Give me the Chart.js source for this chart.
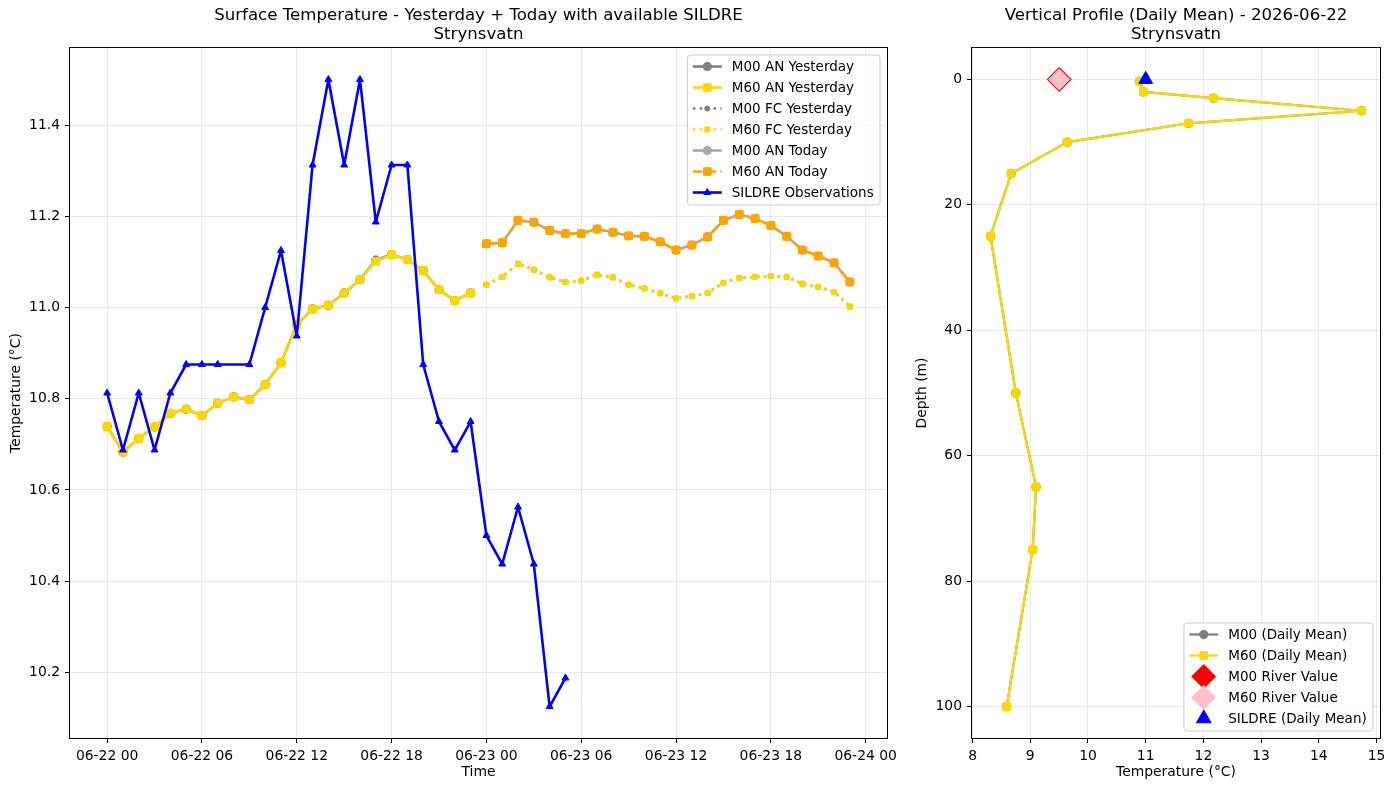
<!DOCTYPE html>
<html lang="en">
<head>
<meta charset="UTF-8" />
<title>Strynsvatn - surface temperature and vertical profile</title>
<style>
  html, body { margin: 0; padding: 0; background: #fff; }
  #wrap { position: relative; width: 1394px; height: 790px; }
  #surface { position: absolute; left: 0; top: 0; }
  #profile { position: absolute; left: 905px; top: 0; }
</style>
<script src="https://cdn.jsdelivr.net/npm/chart.js"></script>
</head>
<body>
<div id="wrap">
  <canvas id="surface" width="905" height="790"></canvas>
  <canvas id="profile" width="489" height="790"></canvas>
</div>

<script>
// ---- surface temperature (x = hours since 2026-06-22 00:00) ----
const yesterdayHours = [0, 1, 2, 3, 4, 5, 6, 7, 8, 9, 10, 11, 12, 13, 14, 15, 16, 17, 18, 19, 20, 21, 22, 23];
const todayHours = [24, 25, 26, 27, 28, 29, 30, 31, 32, 33, 34, 35, 36, 37, 38, 39, 40, 41, 42, 43, 44, 45, 46, 47];

const m00AnYesterday = [10.739, 10.683, 10.713, 10.738, 10.768, 10.777, 10.763, 10.790, 10.804, 10.798, 10.831, 10.879,
                        10.963, 10.997, 11.005, 11.032, 11.061, 11.104, 11.116, 11.105, 11.081, 11.039, 11.015, 11.032];
const m60AnYesterday = [10.739, 10.683, 10.713, 10.738, 10.768, 10.777, 10.763, 10.790, 10.804, 10.798, 10.831, 10.879,
                        10.963, 10.997, 11.005, 11.032, 11.061, 11.101, 11.116, 11.105, 11.081, 11.039, 11.015, 11.032];
const m00FcYesterday = [11.050, 11.067, 11.096, 11.083, 11.066, 11.056, 11.059, 11.072, 11.066, 11.050, 11.042, 11.031,
                        11.020, 11.025, 11.032, 11.054, 11.065, 11.067, 11.069, 11.067, 11.052, 11.045, 11.034, 11.002];
const m60FcYesterday = [11.050, 11.067, 11.096, 11.083, 11.066, 11.056, 11.059, 11.072, 11.066, 11.050, 11.042, 11.031,
                        11.020, 11.025, 11.032, 11.054, 11.065, 11.067, 11.069, 11.067, 11.052, 11.045, 11.034, 11.002];
const m00AnToday = [11.140, 11.142, 11.191, 11.187, 11.169, 11.162, 11.162, 11.172, 11.165, 11.157, 11.156, 11.144,
                    11.126, 11.137, 11.155, 11.191, 11.204, 11.195, 11.180, 11.156, 11.126, 11.113, 11.098, 11.056];
const m60AnToday = [11.140, 11.142, 11.191, 11.187, 11.169, 11.162, 11.162, 11.172, 11.165, 11.157, 11.156, 11.144,
                    11.126, 11.137, 11.155, 11.191, 11.204, 11.195, 11.180, 11.156, 11.126, 11.113, 11.098, 11.056];

const sildreHours = [0, 1, 2, 3, 4, 5, 6, 7, 9, 10, 11, 12, 13, 14, 15, 16, 17, 18, 19, 20, 21, 22, 23, 24, 25, 26, 27, 28, 29];
const sildreTemp = [10.8125, 10.6875, 10.8125, 10.6875, 10.8125, 10.875, 10.875, 10.875, 10.875, 11.0, 11.125, 10.9375,
                    11.3125, 11.5, 11.3125, 11.5, 11.1875, 11.3125, 11.3125, 10.875, 10.75, 10.6875, 10.75,
                    10.5, 10.4375, 10.5625, 10.4375, 10.125, 10.1875];

const timeTickHours = [0, 6, 12, 18, 24, 30, 36, 42, 48];
const timeTickLabels = ['06-22 00', '06-22 06', '06-22 12', '06-22 18', '06-23 00', '06-23 06', '06-23 12', '06-23 18', '06-24 00'];
const tempTicks = [10.2, 10.4, 10.6, 10.8, 11.0, 11.2, 11.4];

// ---- vertical profile, daily mean 2026-06-22 ----
const profileDepth = [0.3, 2, 3, 5, 7, 10, 15, 25, 50, 65, 75, 100];
const m00ProfileTemp = [10.89, 10.96, 12.17, 14.74, 11.74, 9.64, 8.67, 8.31, 8.75, 9.10, 9.04, 8.59];
const m60ProfileTemp = [10.89, 10.96, 12.17, 14.74, 11.74, 9.64, 8.67, 8.31, 8.75, 9.10, 9.04, 8.59];
const m00RiverTemp = 9.5;
const m60RiverTemp = 9.5;
const sildreDailyMean = 11.0;
const depthTicks = [0, 20, 40, 60, 80, 100];
const profileTempTicks = [8, 9, 10, 11, 12, 13, 14, 15];

Chart.defaults.font.family = '"DejaVu Sans", sans-serif';
Chart.defaults.font.size = 13.9;
Chart.defaults.color = '#000';

const GRID = 'rgba(176,176,176,0.35)';

function line(label, xs, ys, color, dash, pointStyle, radius, order, width) {
  return {
    label: label,
    data: xs.map((x, i) => ({ x: x, y: ys[i] })),
    borderColor: color,
    backgroundColor: color,
    pointBackgroundColor: color,
    pointBorderColor: color,
    borderWidth: width || 2.6,
    borderDash: dash,
    borderJoinStyle: 'round',
    pointStyle: pointStyle,
    pointRadius: radius,
    pointBorderWidth: 1,
    showLine: true,
    tension: 0,
    order: order
  };
}

function marker(label, x, y, color, pointStyle, radius, legendRadius, order) {
  return {
    label: label,
    data: [{ x: x, y: y }],
    borderColor: color,
    backgroundColor: color,
    pointBackgroundColor: color,
    pointBorderColor: color,
    pointStyle: pointStyle,
    pointRadius: radius,
    legendRadius: legendRadius,
    pointBorderWidth: 1,
    showLine: false,
    order: order
  };
}

function axis(min, max, ticks, fmt, title, titlePad, fitSize, horizontal, reverse) {
  return {
    type: 'linear',
    min: min,
    max: max,
    reverse: !!reverse,
    afterBuildTicks: s => { s.ticks = ticks.map(v => ({ value: v })); },
    afterFit: s => { if (horizontal) s.height = fitSize; else s.width = fitSize; },
    ticks: { callback: fmt, padding: 5, maxRotation: 0, autoSkip: false, color: '#000' },
    grid: { color: GRID, lineWidth: 0.8, tickLength: 5, tickColor: '#000', tickWidth: 1 },
    border: { display: false },
    title: { display: true, text: title, padding: titlePad, color: '#000' }
  };
}

// black box round the plot area, like matplotlib spines
const frame = {
  id: 'frame',
  afterDatasetsDraw(chart) {
    const { ctx, chartArea: a } = chart;
    ctx.save();
    ctx.strokeStyle = '#000';
    ctx.lineWidth = 1;
    ctx.strokeRect(Math.round(a.left) - 0.5, Math.round(a.top) - 0.5,
                   Math.round(a.right - a.left) + 1, Math.round(a.bottom - a.top) + 1);
    ctx.restore();
  }
};

// legend box inside the plot area
const boxLegend = {
  id: 'boxLegend',
  afterDraw(chart, args, opts) {
    if (!opts.corner) return;
    const ctx = chart.ctx, a = chart.chartArea, sets = chart.data.datasets;
    const rowH = 21, pad = 5.3, handle = 29, gap = 10, inset = 7;
    ctx.save();
    ctx.font = '13.5px "DejaVu Sans"';
    const textW = Math.max(...sets.map(d => ctx.measureText(d.label).width));
    const w = pad + handle + gap + textW + pad + 1;
    const h = sets.length * rowH + 3;
    const x0 = a.right - inset - w;
    const y0 = opts.corner === 'top' ? a.top + inset : a.bottom - inset - h;

    ctx.beginPath();
    if (ctx.roundRect) ctx.roundRect(x0, y0, w, h, 3); else ctx.rect(x0, y0, w, h);
    ctx.fillStyle = 'rgba(255,255,255,0.8)';
    ctx.fill();
    ctx.strokeStyle = '#cccccc';
    ctx.lineWidth = 1;
    ctx.stroke();

    sets.forEach((d, i) => {
      const cy = y0 + 11.5 + i * rowH;
      const hx = x0 + pad;
      if (d.showLine) {
        ctx.beginPath();
        ctx.setLineDash(d.borderDash || []);
        ctx.strokeStyle = d.borderColor;
        ctx.lineWidth = d.borderWidth;
        ctx.moveTo(hx, cy);
        ctx.lineTo(hx + handle, cy);
        ctx.stroke();
      }
      ctx.setLineDash([]);
      ctx.fillStyle = d.pointBackgroundColor;
      ctx.strokeStyle = d.pointBorderColor;
      ctx.lineWidth = 1;
      Chart.helpers.drawPoint(ctx, {
        pointStyle: d.pointStyle, rotation: 0,
        radius: d.legendRadius || d.pointRadius, borderWidth: 1
      }, hx + handle / 2, cy);
      ctx.fillStyle = '#000';
      ctx.textBaseline = 'middle';
      ctx.textAlign = 'left';
      ctx.fillText(d.label, hx + handle + gap, cy + 0.5);
    });
    ctx.restore();
  }
};

const titleFont = { size: 16.6, weight: 'normal', lineHeight: 1.16 };

new Chart(document.getElementById('surface'), {
  type: 'line',
  data: {
    datasets: [
      line('M00 AN Yesterday', yesterdayHours, m00AnYesterday, '#808080', [], 'circle', 4.2, 7),
      line('M60 AN Yesterday', yesterdayHours, m60AnYesterday, '#FFD700', [], 'rect', 5.4, 6),
      line('M00 FC Yesterday', todayHours, m00FcYesterday, '#808080', [2.6, 4.3], 'circle', 2.6, 5),
      line('M60 FC Yesterday', todayHours, m60FcYesterday, '#FFD700', [2.6, 4.3], 'rect', 3.6, 4),
      line('M00 AN Today', todayHours, m00AnToday, '#A9A9A9', [], 'circle', 4.2, 3),
      line('M60 AN Today', todayHours, m60AnToday, '#FFA500', [9.6, 4.2], 'rect', 5.4, 2),
      line('SILDRE Observations', sildreHours, sildreTemp, '#0000FF', [], 'triangle', 4, 1)
    ]
  },
  options: {
    responsive: false,
    animation: false,
    events: [],
    layout: { padding: { left: 0, right: 18, top: 0, bottom: 0 } },
    scales: {
      x: axis(-2.35, 49.35, timeTickHours, v => timeTickLabels[timeTickHours.indexOf(v)],
              'Time', { top: 0, bottom: 9 }, 52, true),
      y: axis(10.056, 11.569, tempTicks, v => v.toFixed(1),
              'Temperature (°C)', { top: 8, bottom: 0 }, 70, false)
    },
    plugins: {
      legend: { display: false },
      tooltip: { enabled: false },
      title: {
        display: true,
        fullSize: false,
        text: ['Surface Temperature - Yesterday + Today with available SILDRE', 'Strynsvatn'],
        font: titleFont,
        color: '#000',
        padding: { top: 6, bottom: 3.5 }
      },
      boxLegend: { corner: 'top' }
    }
  },
  plugins: [frame, boxLegend]
});

new Chart(document.getElementById('profile'), {
  type: 'scatter',
  data: {
    datasets: [
      line('M00 (Daily Mean)', m00ProfileTemp, profileDepth, '#808080', [], 'circle', 4.2, 5, 2.2),
      line('M60 (Daily Mean)', m60ProfileTemp, profileDepth, '#FFD700', [], 'rect', 5.4, 4, 2.2),
      marker('M00 River Value', m00RiverTemp, 0, '#FF0000', 'rectRot', 12, 12, 3),
      marker('M60 River Value', m60RiverTemp, 0, '#FFC0CB', 'rectRot', 10.5, 12, 2),
      marker('SILDRE (Daily Mean)', sildreDailyMean, 0, '#0000FF', 'triangle', 8, 8.5, 1)
    ]
  },
  options: {
    responsive: false,
    animation: false,
    events: [],
    layout: { padding: { left: 0, right: 14, top: 0, bottom: 0 } },
    scales: {
      x: axis(7.99, 15.06, profileTempTicks, v => String(v),
              'Temperature (°C)', { top: 0, bottom: 9 }, 52, true),
      y: axis(-5, 105, depthTicks, v => String(v),
              'Depth (m)', { top: 9, bottom: 0 }, 67, false, true)
    },
    plugins: {
      legend: { display: false },
      tooltip: { enabled: false },
      title: {
        display: true,
        fullSize: false,
        text: ['Vertical Profile (Daily Mean) - 2026-06-22', 'Strynsvatn'],
        font: titleFont,
        color: '#000',
        padding: { top: 6, bottom: 3.5 }
      },
      boxLegend: { corner: 'bottom' }
    }
  },
  plugins: [frame, boxLegend]
});
</script>
</body>
</html>
